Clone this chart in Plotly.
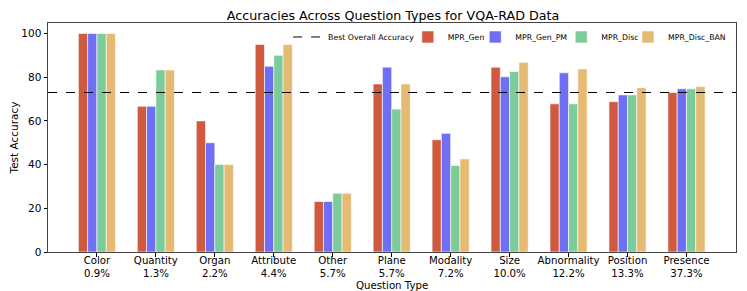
import plotly.graph_objects as go

categories = ["Color", "Quantity", "Organ", "Attribute", "Other", "Plane",
              "Modality", "Size", "Abnormality", "Position", "Presence"]
shares = ["0.9%", "1.3%", "2.2%", "4.4%", "5.7%", "5.7%",
          "7.2%", "10.0%", "12.2%", "13.3%", "37.3%"]
mpr_gen = [100, 66.7, 60, 95, 23.1, 76.9, 51.4, 84.6, 67.8, 68.8, 73.0]
mpr_gen_pm = [100, 66.7, 50, 85, 23.1, 84.6, 54.3, 80.2, 82.0, 71.9, 74.7]
mpr_disc = [100, 83.3, 40, 90, 26.9, 65.4, 39.6, 82.6, 67.8, 71.9, 74.7]
mpr_disc_ban = [100, 83.3, 40, 95, 26.9, 76.9, 42.6, 86.8, 83.8, 75.2, 75.7]
best_overall = 73.0

series = [("MPR_Gen", mpr_gen, "#d05a40"),
          ("MPR_Gen_PM", mpr_gen_pm, "#6f6ff6"),
          ("MPR_Disc", mpr_disc, "#7bcc9a"),
          ("MPR_Disc_BAN", mpr_disc_ban, "#e5ba72")]

xlabels = [f"{c}<br>{s}" for c, s in zip(categories, shares)]
font = "DejaVu Sans"

# legend entry left positions (paper fraction of plot width)
legend_x = [0.349, 0.523, 0.621, 0.746, 0.843]
legend_names = ["legend", "legend2", "legend3", "legend4", "legend5"]

fig = go.Figure()
fig.add_trace(go.Scatter(x=[None], y=[None], mode="lines", name="Best Overall Accuracy",
                         line=dict(color="black", dash="dash", width=1), legend="legend"))
for (name, vals, col), lg in zip(series, legend_names[1:]):
    fig.add_trace(go.Bar(x=list(range(len(categories))), y=vals, name=name, legend=lg,
                         marker=dict(color=col, line=dict(color="rgba(255,255,255,0.6)", width=1))))

fig.add_shape(type="line", xref="paper", x0=0, x1=1, yref="y", y0=best_overall, y1=best_overall,
              line=dict(color="black", dash="dash", width=1))

legend_common = dict(orientation="h", y=0.939, xanchor="left", yanchor="middle",
                     font=dict(size=7.8), bgcolor="rgba(255,255,255,0)", itemwidth=30)
layout_legends = {lg: dict(x=lx, **legend_common) for lg, lx in zip(legend_names, legend_x)}

fig.update_layout(
    width=739, height=283,
    margin=dict(l=40, r=11.3, t=15, b=38.7),
    paper_bgcolor="white", plot_bgcolor="white",
    font=dict(family=font, size=10.2, color="black"),
    title=dict(text="Accuracies Across Question Types for VQA-RAD Data", x=0.521, xanchor="center",
               y=0.9735, yanchor="middle", font=dict(size=12.7)),
    barmode="group", bargap=0.37, bargroupgap=0,
    showlegend=True,
    **layout_legends,
)
fig.update_xaxes(range=[-0.83, 10.84], tickmode="array", tickvals=list(range(len(categories))),
                 ticktext=xlabels, ticks="outside", ticklen=3.5, tickcolor="black",
                 showline=True, linecolor="#444", linewidth=1, mirror=True, showgrid=False,
                 zeroline=False, automargin=False, ticklabelstandoff=-5)
fig.update_yaxes(range=[0, 104.8], tickvals=[0, 20, 40, 60, 80, 100], ticks="outside",
                 ticklen=3.5, tickcolor="black", showline=True, linecolor="#444", linewidth=1,
                 mirror=True, showgrid=False, zeroline=False, automargin=False,
                 tickfont=dict(size=10.5),
                 title=dict(text="Test Accuracy", font=dict(size=10.5), standoff=4))
fig.add_annotation(text="Question Type", xref="paper", yref="paper", x=0.5, y=0,
                   xanchor="center", yanchor="middle", yshift=-33, showarrow=False,
                   font=dict(size=10.2))

fig.write_html("out.html")
